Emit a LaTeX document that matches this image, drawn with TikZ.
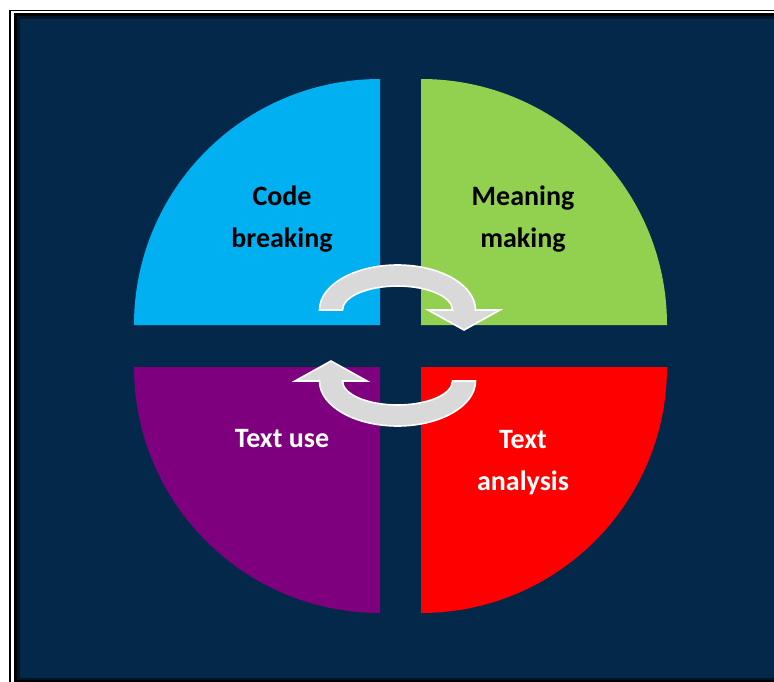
\documentclass[tikz,border=0pt]{standalone}
\usepackage{fontspec}
\setmainfont{Carlito}
\definecolor{navy}{RGB}{4,40,74}
\definecolor{qcyan}{RGB}{0,176,240}
\definecolor{qgreen}{RGB}{146,208,80}
\definecolor{qpurple}{RGB}{127,0,127}
\definecolor{qred}{RGB}{255,0,0}
\definecolor{arrowgray}{RGB}{217,217,217}
\definecolor{framedark}{RGB}{2,20,37}
\tikzset{
  quad/.style={draw=none},
  cyclearrow/.style={fill=arrowgray, draw=white, line width=1.6pt, line join=miter},
  lbl/.style={font=\fontsize{28}{42}\selectfont\bfseries, align=center, inner sep=0pt},
}
\begin{document}
\begin{tikzpicture}[x=1pt,y=-1pt]
\useasboundingbox (0,0) rectangle (774,682);
% frame
\fill[white] (0,0) rectangle (774,682);
\draw[black, line width=1.8pt] (10,10.5) rectangle (800,700);
\fill[black] (13.5,13.5) rectangle (800,700);
\fill[framedark] (16.5,16.5) rectangle (800,679.5);
\fill[navy] (19.5,19.5) rectangle (800,677.5);
% quadrants
\fill[qcyan]   (380,325) -- ++(-246,0) arc[start angle=180, end angle=270, radius=246] -- cycle;
\fill[qgreen]  (421,325) -- ++(0,-246) arc[start angle=270, end angle=360, radius=246] -- cycle;
\fill[qred]    (421,367) -- ++(246,0) arc[start angle=0, end angle=90, radius=246] -- cycle;
\fill[qpurple] (380,367) -- ++(0,246) arc[start angle=90, end angle=180, radius=246] -- cycle;
% labels (anchor base = baseline of the last line)
\node[lbl, text=black, anchor=base] (code) at (282,247) {Code\\breaking};
\node[lbl, text=black, anchor=base] (meaning) at (523,247) {Meaning\\making};
\node[lbl, text=white, anchor=base] (use) at (282,447) {Text use};
\node[lbl, text=white, anchor=base] (analysis) at (523,490) {Text\\analysis};
% cycle arrows
\path[cyclearrow] (319.5,310) arc[start angle=180, end angle=360, x radius=78, y radius=45]
  -- (500,310) -- (464,330) -- (428,310) -- (452.5,310)
  arc[start angle=360, end angle=180, x radius=55, y radius=24] -- cycle;
\path[cyclearrow] (475.5,381) arc[start angle=0, end angle=180, x radius=78, y radius=45]
  -- (295,381) -- (331,361) -- (367,381) -- (342.5,381)
  arc[start angle=180, end angle=0, x radius=55, y radius=24] -- cycle;
\end{tikzpicture}
\end{document}
